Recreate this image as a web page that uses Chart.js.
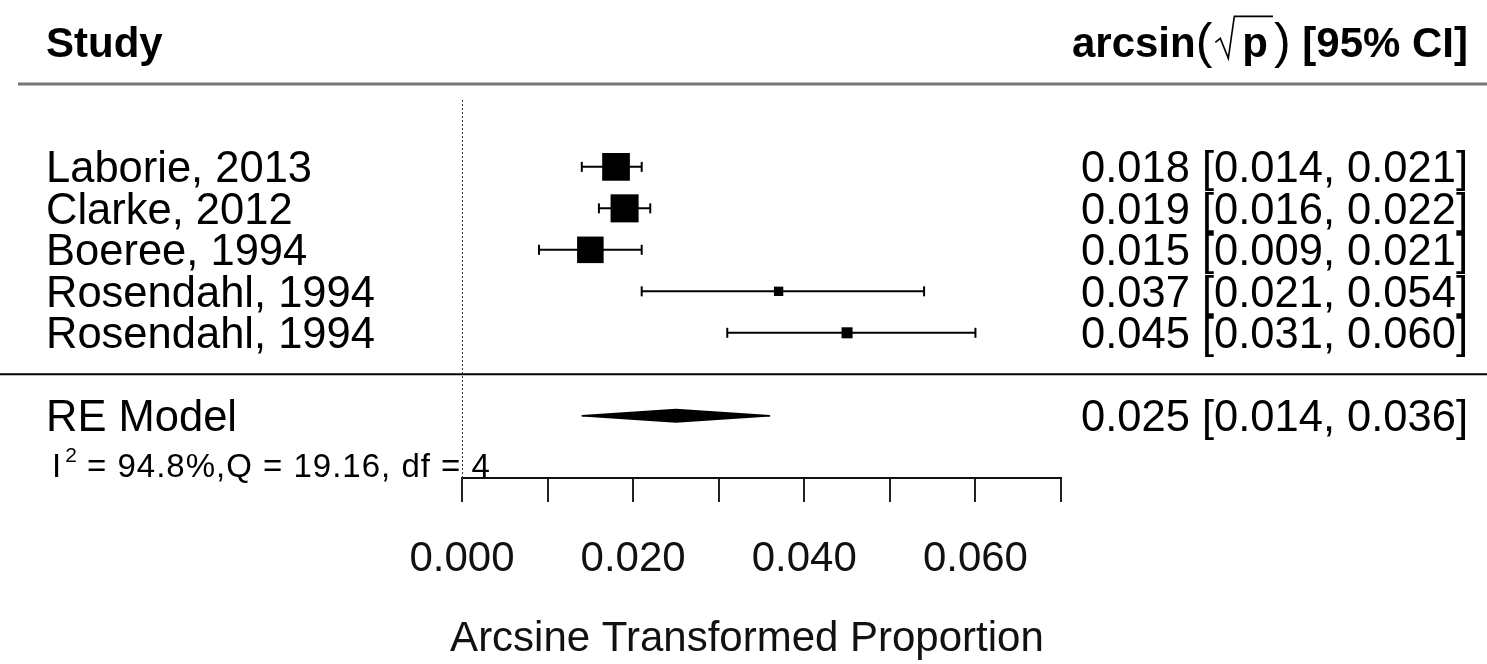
<!DOCTYPE html>
<html>
<head>
<meta charset="utf-8">
<script src="https://cdn.jsdelivr.net/npm/chart.js@4.4.1/dist/chart.umd.min.js"></script>
<style>
  html, body { margin: 0; padding: 0; background: #fff; }
  #wrap { width: 1487px; height: 664px; }
</style>
</head>
<body>
<div id="wrap"><canvas id="forest"></canvas></div>
<script>
// study level data (arcsine transformed proportions)
const studies = ['Laborie, 2013', 'Clarke, 2012', 'Boeree, 1994', 'Rosendahl, 1994', 'Rosendahl, 1994'];
const estimates = [0.018, 0.019, 0.015, 0.037, 0.045];
const lower = [0.014, 0.016, 0.009, 0.021, 0.031];
const upper = [0.021, 0.022, 0.021, 0.054, 0.060];
const weights = [24.3, 24.5, 23.6, 13.3, 14.3];
const rows = [5, 4, 3, 2, 1];

// random effects model
const reLabel = 'RE Model';
const reEstimate = 0.025;
const reLower = 0.014;
const reUpper = 0.036;
const reRow = -1;
const hetText = ' = 94.8%,Q = 19.16, df = 4';

// axis
const xMin = 0, xMax = 0.07, xStep = 0.01;
const xLabelEvery = 0.02;
const xTitle = 'Arcsine Transformed Proportion';
const yMin = -2.5, yMax = 6.66;

const FONT = '"Liberation Sans", Arial, sans-serif';

// metafor style box sizes: rescale weights to 0.5 .. 1.5
const wMin = Math.min(...weights), wMax = Math.max(...weights);
const boxSide = w => (0.5 + (w - wMin) / (wMax - wMin)) * 18.7;

const boxes = {
    type: 'scatter',
    data: estimates.map((e, i) => ({ x: e, y: rows[i] })),
    pointStyle: 'rect',
    pointRadius: weights.map(w => boxSide(w) / (2 * Math.SQRT1_2)),
    backgroundColor: '#000',
    borderWidth: 0
};

const ciLines = estimates.map((e, i) => ({
    type: 'line',
    data: [{ x: lower[i], y: rows[i] }, { x: upper[i], y: rows[i] }],
    borderColor: '#000',
    borderWidth: 2,
    pointStyle: 'line',
    pointRotation: 90,
    pointRadius: 5,
    pointBorderWidth: 2,
    pointBorderColor: '#000',
    fill: false
}));

const dh = 0.15;
const diamondTop = {
    type: 'line',
    data: [{ x: reLower, y: reRow }, { x: reEstimate, y: reRow + dh }, { x: reUpper, y: reRow }],
    borderColor: '#000',
    borderWidth: 1.5,
    backgroundColor: '#000',
    pointRadius: 0,
    tension: 0,
    fill: '+1'
};
const diamondBottom = {
    type: 'line',
    data: [{ x: reLower, y: reRow }, { x: reEstimate, y: reRow - dh }, { x: reUpper, y: reRow }],
    borderColor: '#000',
    borderWidth: 1.5,
    pointRadius: 0,
    tension: 0,
    fill: false
};

const refLine = {
    type: 'line',
    data: [{ x: 0, y: yMin }, { x: 0, y: yMax }],
    borderColor: '#333',
    borderWidth: 2,
    borderDash: [2, 2],
    pointRadius: 0,
    fill: false
};

const textPlugin = {
    id: 'forestText',
    afterDraw(chart) {
        const c = chart.ctx;
        const y = chart.scales.y;
        const x = chart.scales.x;
        const W = chart.width;
        const rightEdge = 1468;
        const leftEdge = 46;

        c.save();

        // separator lines
        c.strokeStyle = '#777';
        c.lineWidth = 3;
        c.beginPath();
        c.moveTo(18, y.getPixelForValue(7));
        c.lineTo(W, y.getPixelForValue(7));
        c.stroke();
        c.strokeStyle = '#000';
        c.lineWidth = 2;
        c.beginPath();
        c.moveTo(0, y.getPixelForValue(0));
        c.lineTo(W, y.getPixelForValue(0));
        c.stroke();

        c.fillStyle = '#000';
        c.textBaseline = 'alphabetic';

        // header
        const hy = y.getPixelForValue(8) + 15;
        c.font = 'bold 42px ' + FONT;
        c.textAlign = 'left';
        c.fillText('Study', leftEdge, hy);

        c.textAlign = 'right';
        let px = rightEdge;
        c.fillText(' [95% CI]', px, hy);
        px -= c.measureText(' [95% CI]').width;
        c.font = '50px ' + FONT;
        c.fillText(')', px, hy + 1);
        px -= c.measureText(')').width + 6;
        c.font = 'bold 42px ' + FONT;
        c.fillText('p', px, hy);
        const pw = c.measureText('p').width;
        // radical sign with overline
        c.lineWidth = 1.6;
        c.strokeStyle = '#000';
        c.lineJoin = 'miter';
        c.beginPath();
        c.moveTo(px - pw - 27, hy - 15);
        c.lineTo(px - pw - 22, hy - 19);
        c.lineTo(px - pw - 14, hy + 1);
        c.lineTo(px - pw - 8, hy - 41);
        c.lineTo(px + 5, hy - 41);
        c.stroke();
        px -= pw + 30;
        c.font = '50px ' + FONT;
        c.fillText('(', px, hy + 1);
        px -= c.measureText('(').width;
        c.font = 'bold 42px ' + FONT;
        c.fillText('arcsin', px, hy);

        // study rows
        c.font = '43.5px ' + FONT;
        studies.forEach((s, i) => {
            const ry = y.getPixelForValue(rows[i]) + 15.5;
            c.textAlign = 'left';
            c.fillText(s, leftEdge, ry);
            c.textAlign = 'right';
            c.fillText(estimates[i].toFixed(3) + ' [' + lower[i].toFixed(3) + ', ' + upper[i].toFixed(3) + ']', rightEdge, ry);
        });

        // model row
        const my = y.getPixelForValue(reRow) + 15.5;
        c.textAlign = 'left';
        c.fillText(reLabel, leftEdge, my);
        c.textAlign = 'right';
        c.fillText(reEstimate.toFixed(3) + ' [' + reLower.toFixed(3) + ', ' + reUpper.toFixed(3) + ']', rightEdge, my);

        // heterogeneity line
        const iy = y.getPixelForValue(-2.2) + 11.5;
        c.textAlign = 'left';
        c.font = '33px ' + FONT;
        c.fillText('I', 52, iy);
        let ix = 52 + c.measureText('I').width + 4;
        c.font = '21px ' + FONT;
        c.fillText('2', ix, iy - 15);
        ix += c.measureText('2').width;
        c.font = '33px ' + FONT;
        c.letterSpacing = '1px';
        c.fillText(hetText, ix, iy);
        c.letterSpacing = '0px';

        // axis title
        c.font = '42px ' + FONT;
        c.fillStyle = '#111';
        c.textAlign = 'center';
        c.fillText(xTitle, x.getPixelForValue(0.0333), 651);

        c.restore();
    }
};

new Chart(document.getElementById('forest'), {
    type: 'scatter',
    data: { datasets: [boxes, ...ciLines, diamondTop, diamondBottom, refLine] },
    options: {
        responsive: true,
        maintainAspectRatio: false,
        animation: false,
        events: [],
        layout: { padding: { left: 462, right: 426, top: 98, bottom: 0 } },
        plugins: { legend: { display: false }, tooltip: { enabled: false } },
        scales: {
            x: {
                type: 'linear',
                min: xMin,
                max: xMax,
                afterFit: s => { s.height = 186; },
                border: { display: true, color: '#111', width: 2 },
                grid: { display: true, drawOnChartArea: false, drawTicks: true, tickLength: 24, color: '#222', lineWidth: 2 },
                ticks: {
                    stepSize: xStep,
                    autoSkip: false,
                    maxRotation: 0,
                    minRotation: 0,
                    padding: 32,
                    color: '#111',
                    font: { family: FONT, size: 42 },
                    callback: v => (Math.round(v * 1000) % Math.round(xLabelEvery * 1000) === 0 ? v.toFixed(3) : '')
                },
                title: { display: false }
            },
            y: {
                type: 'linear',
                display: false,
                min: yMin,
                max: yMax
            }
        }
    },
    plugins: [textPlugin]
});
</script>
</body>
</html>
